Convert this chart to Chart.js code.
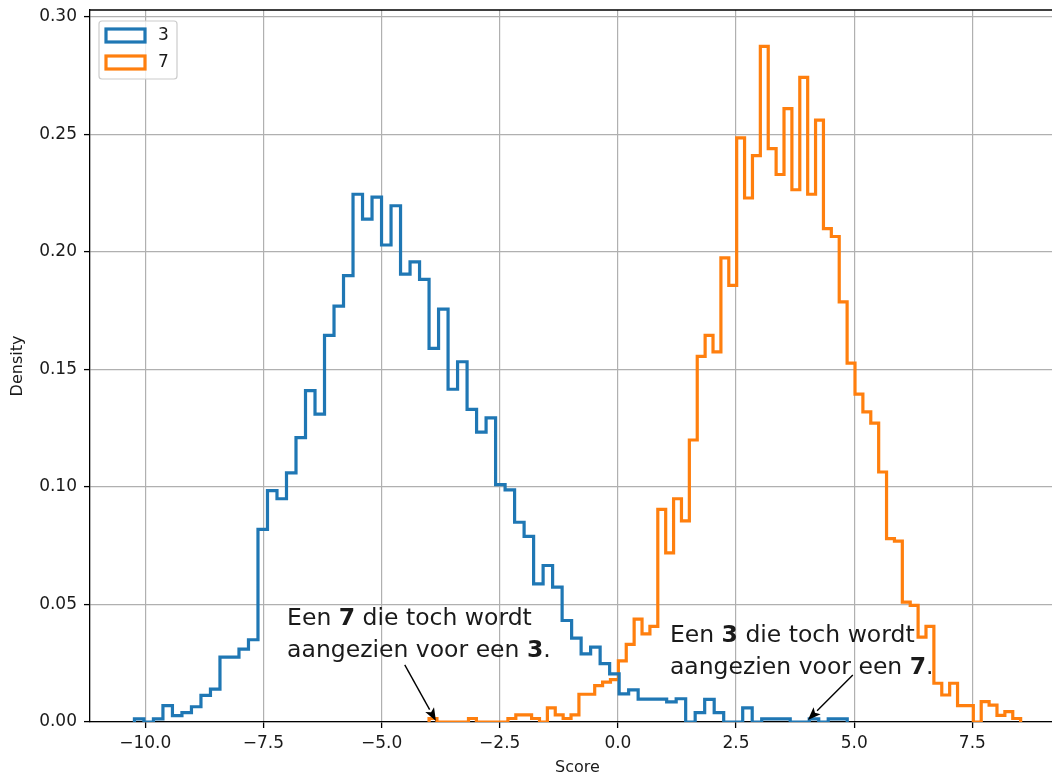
<!DOCTYPE html>
<html>
<head>
<meta charset="utf-8">
<title>Score histogram</title>
<script src="https://cdn.jsdelivr.net/npm/chart.js@4.4.0/dist/chart.umd.min.js"></script>
<style>
  html, body { margin: 0; padding: 0; background: #fff; overflow: hidden; }
  #wrap { width: 1067px; height: 777px; }
</style>
</head>
<body>
<div id="wrap"><canvas id="scoreHist"></canvas></div>
<script>
// histogram of classifier scores for digits 3 and 7 (75 bins each, density)
const seriesLabels = ['3', '7'];
const seriesColors = ['#1f77b4', '#ff7f0e'];

const binsStart3 = -10.23, binWidth3 = 0.2011;
const density3 = [
  0.0013, 0, 0.0013, 0.007, 0.0027, 0.004, 0.0065, 0.0113, 0.014, 0.0276,
  0.0276, 0.031, 0.035, 0.082, 0.0985, 0.095, 0.106, 0.121, 0.141, 0.131,
  0.1645, 0.177, 0.190, 0.2246, 0.214, 0.2234, 0.203, 0.2197, 0.1906, 0.1958,
  0.1884, 0.159, 0.1757, 0.1416, 0.1533, 0.133, 0.1234, 0.1294, 0.101, 0.0988,
  0.085, 0.079, 0.0588, 0.0666, 0.0574, 0.0432, 0.0357, 0.029, 0.0319, 0.0248,
  0.0205, 0.012, 0.0137, 0.0097, 0.0097, 0.0097, 0.0086, 0.0099, 0, 0.004,
  0.0096, 0.004, 0, 0, 0.006, 0, 0.0013, 0.0013, 0.0013, 0,
  0, 0.0013, 0, 0.0013, 0.0013
];

const binsStart7 = -3.996, binWidth7 = 0.1669;
const density7 = [
  0.0015, 0, 0, 0, 0, 0.0015, 0, 0, 0, 0,
  0.0015, 0.003, 0.003, 0.0015, 0, 0.006, 0.003, 0.0015, 0.003, 0.0118,
  0.0118, 0.0155, 0.017, 0.018, 0.026, 0.033, 0.0438, 0.0375, 0.0407, 0.0905,
  0.072, 0.095, 0.0856, 0.120, 0.1556, 0.1645, 0.1575, 0.1975, 0.1858, 0.2486,
  0.2230, 0.241, 0.2875, 0.244, 0.233, 0.261, 0.2265, 0.2743, 0.2246, 0.2561,
  0.210, 0.2066, 0.1788, 0.1527, 0.1395, 0.132, 0.1272, 0.1064, 0.078, 0.077,
  0.051, 0.0496, 0.0361, 0.0407, 0.0165, 0.0115, 0.0165, 0.007, 0.007, 0,
  0.0087, 0.0072, 0.0028, 0.0044, 0.0015
];

const xTickValues = [-10, -7.5, -5, -2.5, 0, 2.5, 5, 7.5];
const yTickValues = [0, 0.05, 0.10, 0.15, 0.20, 0.25, 0.30];
const xRange = [-11.17, 9.46];
const yRange = [0, 0.303];

// annotation text: runs of [text, bold]; anchor = first line baseline (data units)
const notes = [
  {
    lines: [[['Een ', 0], ['7', 1], [' die toch wordt', 0]], [['aangezien voor een ', 0], ['3', 1], ['.', 0]]],
    anchor: [-7.0, 0.0414], tail: [-4.51, 0.0243], tip: [-3.85, 0.0004]
  },
  {
    lines: [[['Een ', 0], ['3', 1], [' die toch wordt', 0]], [['aangezien voor een ', 0], ['7', 1], ['.', 0]]],
    anchor: [1.10, 0.0342], tail: [4.97, 0.020], tip: [4.02, 0.0009]
  }
];

const FONT = "'DejaVu Sans', 'Liberation Sans', sans-serif";
const MINUS = '\u2212';

function stepOutline(start, width, values) {
  const pts = [{ x: start, y: 0 }];
  values.forEach((v, i) => pts.push({ x: start + (i + 1) * width, y: v }));
  pts.push({ x: start + values.length * width, y: 0 });
  return pts;
}

const datasets = [
  stepOutline(binsStart3, binWidth3, density3),
  stepOutline(binsStart7, binWidth7, density7)
].map((pts, i) => ({
  label: seriesLabels[i],
  data: pts,
  borderColor: seriesColors[i],
  backgroundColor: 'transparent',
  borderWidth: 3.2,
  stepped: 'after',
  pointRadius: 0,
  fill: false,
  borderJoinStyle: 'miter'
}));

const framePlugin = {
  id: 'topSpine',
  afterDraw(chart) {
    const { ctx: c, chartArea: a } = chart;
    c.save();
    c.strokeStyle = '#000';
    c.lineWidth = 1.3;
    c.beginPath();
    c.moveTo(a.left, a.top);
    c.lineTo(a.right, a.top);
    c.stroke();
    c.restore();
  }
};

const notesPlugin = {
  id: 'notes',
  afterDatasetsDraw(chart) {
    const { ctx: c } = chart;
    const xs = chart.scales.x, ys = chart.scales.y;
    const size = 23.5;
    c.save();
    c.fillStyle = '#1a1a1a';
    c.textBaseline = 'alphabetic';
    notes.forEach(n => {
      const x0 = xs.getPixelForValue(n.anchor[0]);
      let y = ys.getPixelForValue(n.anchor[1]);
      n.lines.forEach(runs => {
        let cx = x0;
        runs.forEach(([txt, bold]) => {
          c.font = `${bold ? '700 ' : ''}${size}px ${FONT}`;
          c.fillText(txt, cx, y);
          cx += c.measureText(txt).width;
        });
        y += 32;
      });
      // arrow
      const tx = xs.getPixelForValue(n.tail[0]), ty = ys.getPixelForValue(n.tail[1]);
      const hx = xs.getPixelForValue(n.tip[0]), hy = ys.getPixelForValue(n.tip[1]);
      const ang = Math.atan2(hy - ty, hx - tx);
      const headLen = 13, headW = 5;
      const bx = hx - headLen * Math.cos(ang), by = hy - headLen * Math.sin(ang);
      c.strokeStyle = '#000';
      c.lineWidth = 1.4;
      c.beginPath();
      c.moveTo(tx, ty);
      c.lineTo(bx, by);
      c.stroke();
      c.fillStyle = '#000';
      c.beginPath();
      c.moveTo(hx, hy);
      c.lineTo(bx + headW * Math.sin(ang), by - headW * Math.cos(ang));
      c.lineTo(bx + 3 * Math.cos(ang), by + 3 * Math.sin(ang));
      c.lineTo(bx - headW * Math.sin(ang), by + headW * Math.cos(ang));
      c.closePath();
      c.fill();
      c.fillStyle = '#1a1a1a';
    });
    c.restore();
  }
};

const legendPlugin = {
  id: 'mplLegend',
  afterDraw(chart) {
    const { ctx: c, chartArea: a } = chart;
    const bx = a.left + 9, by = a.top + 11, bw = 78, bh = 58;
    c.save();
    c.fillStyle = 'rgba(255,255,255,0.8)';
    c.strokeStyle = '#cccccc';
    c.lineWidth = 1.2;
    c.beginPath();
    c.roundRect(bx, by, bw, bh, 3);
    c.fill();
    c.stroke();
    seriesLabels.forEach((lab, i) => {
      const ry = by + 8 + i * 27;
      c.strokeStyle = seriesColors[i];
      c.lineWidth = 3.2;
      c.fillStyle = '#fff';
      c.fillRect(bx + 7, ry, 39, 13);
      c.strokeRect(bx + 7, ry, 39, 13);
      c.fillStyle = '#1a1a1a';
      c.font = `17px ${FONT}`;
      c.textBaseline = 'middle';
      c.fillText(lab, bx + 59, ry + 7);
    });
    c.restore();
  }
};

new Chart(document.getElementById('scoreHist'), {
  type: 'line',
  data: { datasets },
  options: {
    responsive: true,
    maintainAspectRatio: false,
    animation: false,
    devicePixelRatio: 1,
    layout: { padding: { left: 0, top: 10, right: 2, bottom: 0 } },
    plugins: { legend: { display: false }, tooltip: { enabled: false } },
    scales: {
      x: {
        type: 'linear',
        min: xRange[0],
        max: xRange[1],
        afterBuildTicks: s => { s.ticks = xTickValues.map(v => ({ value: v })); },
        afterFit: s => { s.height = 55; s.paddingLeft = 0; s.paddingRight = 0; },
        grid: { color: '#b0b0b0', lineWidth: 1.2, tickLength: 6, tickColor: '#000', tickWidth: 1.3 },
        border: { display: true, color: '#000', width: 1.3 },
        ticks: {
          color: '#1a1a1a',
          font: { family: FONT, size: 17 },
          padding: 5,
          maxRotation: 0,
          callback: v => v.toFixed(1).replace('-', MINUS)
        },
        title: { display: true, text: 'Score', color: '#1a1a1a', font: { family: FONT, size: 16 }, padding: { top: 0, bottom: 0 } }
      },
      y: {
        type: 'linear',
        min: yRange[0],
        max: yRange[1],
        afterBuildTicks: s => { s.ticks = yTickValues.map(v => ({ value: v })); },
        afterFit: s => { s.width = 90; s.paddingTop = 0; s.paddingBottom = 0; },
        grid: { color: '#b0b0b0', lineWidth: 1.2, tickLength: 6, tickColor: '#000', tickWidth: 1.3 },
        border: { display: true, color: '#000', width: 1.3 },
        ticks: {
          color: '#1a1a1a',
          font: { family: FONT, size: 17 },
          padding: 7,
          callback: v => v.toFixed(2)
        },
        title: { display: true, text: 'Density', color: '#1a1a1a', font: { family: FONT, size: 16 }, padding: { top: 8, bottom: 0 } }
      }
    }
  },
  plugins: [framePlugin, notesPlugin, legendPlugin]
});
</script>
</body>
</html>
